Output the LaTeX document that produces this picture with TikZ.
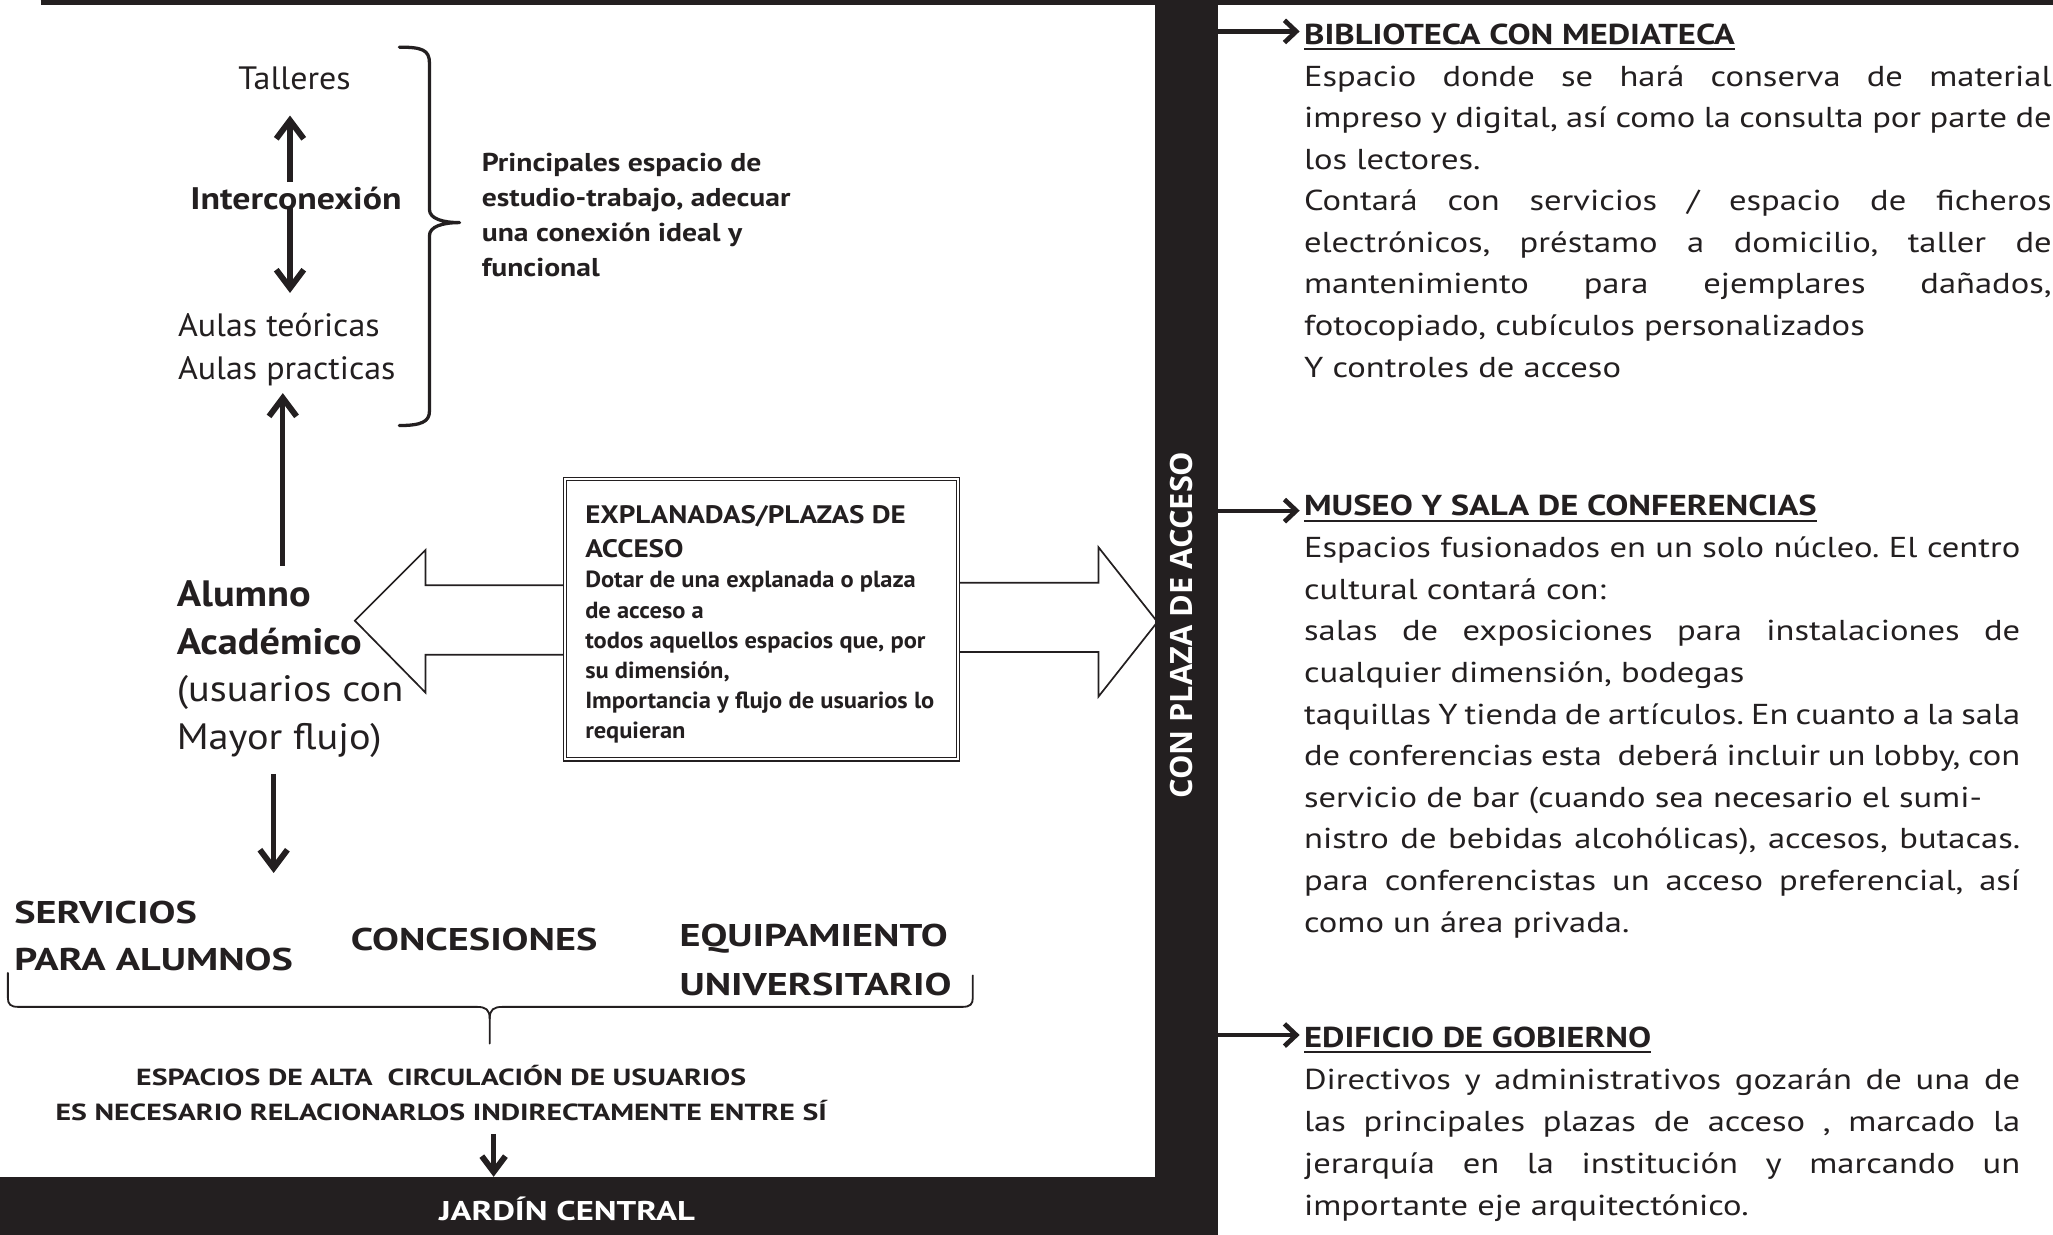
\documentclass[tikz,border=0pt]{standalone}
\usepackage{fontspec}
\setmainfont{PT Sans}
\newfontfamily\barfont{Open Sans}
\newfontfamily\fstA{PT Sans}[FakeStretch=1.05]
\newfontfamily\fstB{PT Sans}[FakeStretch=1.10]
\newfontfamily\fstC{PT Sans}[FakeStretch=1.15]
\newfontfamily\fstD{PT Sans}[FakeStretch=1.20]
\newfontfamily\fstE{PT Sans}[FakeStretch=1.28]
\definecolor{ink}{HTML}{231F20}
\newsavebox\ulbox
\newcommand{\ulx}[1]{\sbox\ulbox{#1}\hbox{\rlap{\vrule width\wd\ulbox height -2.8pt depth 4.3pt}\usebox\ulbox}}
\newlength\jw
\newcommand{\JL}[1]{\hbox to \jw{#1}}
\newcommand{\NL}[1]{\hbox{#1}}
\newcommand{\CL}[1]{\hbox to \jw{\hfil#1\hfil}}
\newcommand{\fs}[2]{\fontsize{#1}{#2}\selectfont}
\begin{document}
\frenchspacing
\begin{tikzpicture}[x=1pt,y=-1pt,
  every node/.style={inner sep=0pt, outer sep=0pt, text=ink},
  shaft/.style={draw=ink, line width=4pt},
  chev/.style={draw=ink, line width=4.5pt, line join=miter, line cap=butt},
  sideshaft/.style={draw=ink, line width=3.2pt},
  sidechev/.style={draw=ink, line width=3.6pt, line join=miter, line cap=butt},
  hollow/.style={draw=ink, line width=1.3pt, line join=miter},
  bracestyle/.style={draw=ink, line cap=round, line join=round},
  blackband/.style={fill=ink, draw=none, anchor=north west}]
\useasboundingbox (0,0) rectangle (1568,943);

% ---------- hollow arrows (drawn first, under the bar) ----------
\draw[hollow] (431,447) -- (325,447) -- (325,420) -- (271,474) -- (325,529) -- (325,500) -- (431,500);
\draw[hollow] (733,445) -- (839,445) -- (839,418) -- (884,475) -- (839,532) -- (839,498) -- (733,498);

% ---------- black structure ----------
\draw[ink, line width=4pt] (31,2) -- (1568,2);
\node[blackband, minimum width=48pt, minimum height=943pt] (bar) at (882,0) {};
\node[blackband, minimum width=882pt, minimum height=44pt] (band) at (0,899) {};
\node[rotate=90, text=white, font=\barfont\bfseries\fs{23.5}{28}] (bartxt) at (902.5,477.5) {CON PLAZA DE ACCESO};
\node[anchor=base, text=white, font=\fstE\bfseries\fs{20.7}{24}] (jardintxt) at (433,932) {JARDÍN CENTRAL};

% ---------- left column ----------
\node[anchor=base, font=\fstA\fs{24.7}{30}] (talleres) at (225,68) {Talleres};
\node[anchor=base, font=\fstC\bfseries\fs{23.8}{30}] (inter) at (226,160) {Interconexión};
\node[anchor=base west] (aulas) at (136,257) {\vtop{\fstA\fs{24.7}{33}\NL{Aulas teóricas}\NL{Aulas practicas}}};

\coordinate (a1t) at (221.5,139); \coordinate (a1h) at (221.5,92);
\coordinate (a2t) at (221.5,158); \coordinate (a2h) at (221.5,220);
\draw[shaft] (a1t) -- (a1h);
\draw[chev] ([shift={(-10.5,14)}]a1h) -- (a1h) -- ([shift={(10.5,14)}]a1h);
\draw[shaft] (a2t) -- (a2h);
\draw[chev] ([shift={(-10.5,-14)}]a2h) -- (a2h) -- ([shift={(10.5,-14)}]a2h);

% right brace of the top group
\draw[bracestyle, line width=2.5pt] (305,36) .. controls (322,36) and (328,38) .. (328,48) -- (328,160)
   .. controls (328,167) and (338,170) .. (351,170)
   .. controls (338,170) and (328,173) .. (328,180) -- (328,314)
   .. controls (328,322) and (322,325) .. (305,325);
\node[anchor=base west] (bracetxt) at (368,131) {\vtop{\fstC\bfseries\fs{19.7}{26.7}%
  \NL{Principales espacio de}\NL{estudio-trabajo, adecuar}\NL{una conexión ideal y}\NL{funcional}}};

% alumno
\node[anchor=base west] (alumno) at (135,463.5) {\vtop{\fstB\fs{28}{36.3}%
  \NL{\bfseries Alumno}\NL{\bfseries Académico}\NL{(usuarios con}\NL{Mayor flujo)}}};
\coordinate (a3t) at (216,432); \coordinate (a3h) at (216,304);
\draw[shaft] (a3t) -- (a3h);
\draw[chev] ([shift={(-10.5,14)}]a3h) -- (a3h) -- ([shift={(10.5,14)}]a3h);
\coordinate (a4t) at (209,591); \coordinate (a4h) at (209,663);
\draw[shaft] (a4t) -- (a4h);
\draw[chev] ([shift={(-10.5,-14)}]a4h) -- (a4h) -- ([shift={(10.5,-14)}]a4h);

% central box
\node[draw=ink, line width=0.9pt, double=white, double distance=1.5pt, anchor=north west,
      minimum width=300pt, minimum height=214pt] (box) at (431.5,366) {};
\node[anchor=base west] (boxtxt) at (447,399.5) {\vtop{\bfseries\fstC\fs{19.3}{26.5}%
  \NL{EXPLANADAS/PLAZAS DE}\NL{ACCESO}\fstA\fs{17.8}{23}%
  \NL{Dotar de una explanada o plaza}\NL{de acceso a}\NL{todos aquellos espacios que, por}%
  \NL{su dimensión,}\NL{Importancia y flujo de usuarios lo}\NL{requieran}}};

% lower group
\node[anchor=base west] (servicios) at (11,705) {\vtop{\fstE\bfseries\fs{24}{36}\NL{SERVICIOS}\NL{PARA ALUMNOS}}};
\node[anchor=base west, font=\fstE\bfseries\fs{24}{36}] (concesiones) at (268,725.6) {CONCESIONES};
\node[anchor=base west] (equipamiento) at (519,723) {\vtop{\fstE\bfseries\fs{24}{37}\NL{EQUIPAMIENTO}\NL{UNIVERSITARIO}}};

\draw[bracestyle, line width=1.4pt] (6,743) -- (6,762) .. controls (6,767) and (8,769) .. (14,769) -- (364,769)
   .. controls (371,769) and (374,771) .. (374,778) -- (374,797);
\draw[bracestyle, line width=1.4pt] (743,745) -- (743,762) .. controls (743,767) and (741,769) .. (735,769) -- (384,769)
   .. controls (377,769) and (374,771) .. (374,778);

\node[anchor=base] (espacios) at (337,829) {\vtop{\fstE\bfseries\fs{17.8}{27}\setlength\jw{700pt}%
  \CL{ESPACIOS DE ALTA \ CIRCULACIÓN DE USUARIOS}\CL{ES NECESARIO RELACIONARLOS INDIRECTAMENTE ENTRE SÍ}}};
\coordinate (a5t) at (377,866); \coordinate (a5h) at (377,895);
\draw[shaft] (a5t) -- (a5h);
\draw[chev] ([shift={(-9,-12)}]a5h) -- (a5h) -- ([shift={(9,-12)}]a5h);

% ---------- right column ----------
\coordinate (r1) at (930,24);  \coordinate (r1h) at (990,24);
\coordinate (r2) at (930,390); \coordinate (r2h) at (990,390);
\coordinate (r3) at (930,790.5); \coordinate (r3h) at (990,790.5);
\foreach \s/\h in {r1/r1h, r2/r2h, r3/r3h}{
  \draw[sideshaft] (\s) -- (\h);
  \draw[sidechev] ([shift={(-9,-8.5)}]\h) -- (\h) -- ([shift={(-9,8.5)}]\h);
}

\node[anchor=base west] (biblio) at (996,34) {\vtop{\fstD\fs{22}{31.75}\setlength\jw{571pt}%
  \NL{\bfseries\ulx{BIBLIOTECA CON MEDIATECA}}%
  \JL{Espacio donde se hará conserva de material}%
  \JL{impreso y digital, así como la consulta por parte de}%
  \NL{los lectores.}%
  \JL{Contará con servicios / espacio de ficheros}%
  \JL{electrónicos, préstamo a domicilio, taller de}%
  \JL{mantenimiento para ejemplares dañados,}%
  \NL{fotocopiado, cubículos personalizados}%
  \NL{Y controles de acceso}}};

\node[anchor=base west] (museo) at (996,394) {\vtop{\fstD\fs{22}{31.8}\setlength\jw{547pt}%
  \NL{\bfseries\ulx{MUSEO Y SALA DE CONFERENCIAS}}%
  \JL{Espacios fusionados en un solo núcleo. El centro}%
  \NL{cultural contará con:}%
  \JL{salas de exposiciones para instalaciones de}%
  \NL{cualquier dimensión, bodegas}%
  \JL{taquillas Y tienda de artículos. En cuanto a la sala}%
  \JL{de conferencias esta \ deberá incluir un lobby, con}%
  \NL{servicio de bar (cuando sea necesario el sumi-}%
  \JL{nistro de bebidas alcohólicas), accesos, butacas.}%
  \JL{para conferencistas un acceso preferencial, así}%
  \NL{como un área privada.}}};

\node[anchor=base west] (edificio) at (996,800) {\vtop{\fstD\fs{22}{32}\setlength\jw{547pt}%
  \NL{\bfseries\ulx{EDIFICIO DE GOBIERNO}}%
  \JL{Directivos y administrativos gozarán de una de}%
  \JL{las principales plazas de acceso , marcado la}%
  \JL{jerarquía en la institución y marcando un}%
  \NL{importante eje arquitectónico.}}};
\end{tikzpicture}
\end{document}
